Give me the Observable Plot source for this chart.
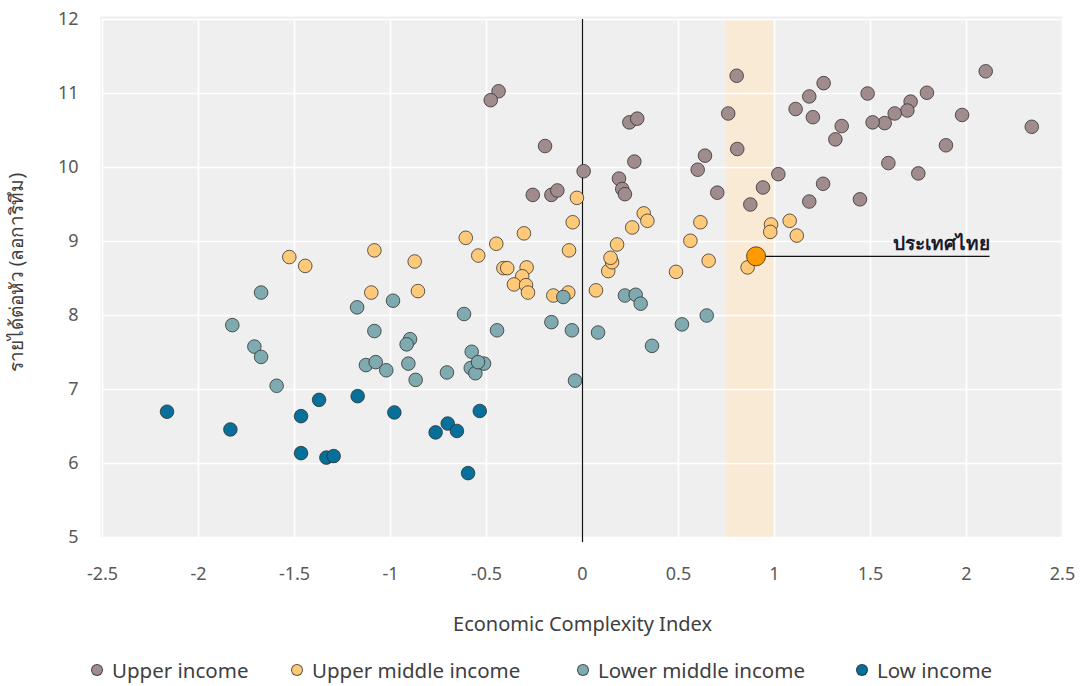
<!DOCTYPE html>
<html>
<head>
<meta charset="utf-8">
<script src="https://cdn.jsdelivr.net/npm/d3@7"></script>
<script src="https://cdn.jsdelivr.net/npm/@observablehq/plot@0.6"></script>
<style>
  body { margin: 0; background: #ffffff; font-family: "Noto Sans", "Open Sans", sans-serif; }
  #wrap { position: relative; width: 1080px; height: 686px; }
  #legend { position: absolute; left: 0; top: 652px; width: 1080px; height: 36px; }
  .li { position: absolute; top: 0; display: flex; align-items: center; font-size: 20.5px; color: #404040; height: 36px; }
  .sw { width: 12px; height: 12px; border-radius: 50%; border: 1px solid rgba(40,40,40,0.75); margin-right: 9px; box-sizing: border-box; }
</style>
</head>
<body>
<div id="wrap">
  <div id="chart"></div>
  <div id="legend"></div>
</div>
<script>
// ---- data ----
const groupNames = ["Upper income", "Upper middle income", "Lower middle income", "Low income"];
const groupColors = ["#a08c8c", "#ffc97a", "#7eaab0", "#07709a"];

const upperIncome = [
  [-0.437, 11.03], [-0.478, 10.91], [-0.195, 10.29], [0.006, 9.95], [-0.259, 9.63],
  [-0.162, 9.63], [-0.131, 9.69], [0.244, 10.61], [0.285, 10.66], [0.270, 10.08],
  [0.190, 9.85], [0.207, 9.71], [0.221, 9.64], [0.638, 10.16], [0.600, 9.97],
  [0.702, 9.66], [0.759, 10.73], [0.803, 11.24], [0.806, 10.25], [0.874, 9.50],
  [0.940, 9.73], [1.020, 9.91], [1.181, 9.54], [1.253, 9.78], [1.445, 9.57],
  [1.593, 10.06], [1.749, 9.92], [1.893, 10.30], [1.977, 10.71], [2.100, 11.30],
  [2.340, 10.55], [1.794, 11.01], [1.709, 10.89], [1.692, 10.77], [1.626, 10.73],
  [1.574, 10.60], [1.511, 10.61], [1.485, 11.00], [1.350, 10.56], [1.317, 10.38],
  [1.256, 11.14], [1.181, 10.96], [1.110, 10.79], [1.200, 10.68]
];
const upperMiddleIncome = [
  [-1.527, 8.79], [-1.444, 8.67], [-1.084, 8.88], [-0.874, 8.73], [-1.100, 8.31],
  [-0.857, 8.33], [-0.608, 9.05], [-0.449, 8.97], [-0.305, 9.11], [-0.543, 8.81],
  [-0.412, 8.64], [-0.392, 8.64], [-0.291, 8.65], [-0.314, 8.53], [-0.357, 8.42],
  [-0.294, 8.41], [-0.284, 8.31], [-0.152, 8.27], [-0.074, 8.31], [-0.029, 9.59],
  [-0.051, 9.26], [-0.070, 8.88], [0.070, 8.34], [0.134, 8.60], [0.154, 8.72],
  [0.146, 8.78], [0.180, 8.96], [0.259, 9.19], [0.319, 9.38], [0.338, 9.28],
  [0.487, 8.59], [0.562, 9.01], [0.614, 9.26], [0.657, 8.74], [0.860, 8.65],
  [0.982, 9.23], [0.978, 9.13], [1.079, 9.28], [1.116, 9.08]
];
const lowerMiddleIncome = [
  [-1.674, 8.31], [-1.824, 7.87], [-1.709, 7.58], [-1.674, 7.44], [-1.593, 7.05],
  [-1.174, 8.11], [-0.987, 8.20], [-1.084, 7.79], [-0.898, 7.68], [-0.916, 7.61],
  [-1.128, 7.33], [-1.077, 7.37], [-1.022, 7.26], [-0.907, 7.35], [-0.869, 7.13],
  [-0.617, 8.02], [-0.445, 7.80], [-0.577, 7.51], [-0.582, 7.29], [-0.558, 7.22],
  [-0.513, 7.35], [-0.544, 7.37], [-0.706, 7.23], [-0.162, 7.91], [-0.055, 7.80],
  [-0.100, 8.25], [-0.039, 7.12], [0.081, 7.77], [0.221, 8.27], [0.277, 8.28],
  [0.303, 8.16], [0.362, 7.59], [0.518, 7.88], [0.647, 8.00]
];
const lowIncome = [
  [-2.164, 6.70], [-1.834, 6.46], [-1.466, 6.64], [-1.372, 6.86], [-1.171, 6.91],
  [-0.980, 6.69], [-1.466, 6.14], [-1.334, 6.08], [-1.296, 6.10], [-0.535, 6.71],
  [-0.702, 6.54], [-0.765, 6.42], [-0.654, 6.44], [-0.596, 5.87]
];
const thailand = [[0.904, 8.80]];
const thailandLabel = "ประเทศไทย";
const labelEndX = 2.12;
const highlightBand = [[0.75, 1.0]];
const xTicks = [-2.5, -2, -1.5, -1, -0.5, 0, 0.5, 1, 1.5, 2, 2.5];
const yTicks = [5, 6, 7, 8, 9, 10, 11, 12];
const xLabel = "Economic Complexity Index";
const yLabel = "รายได้ต่อหัว (ลอการิทึม)";

// ---- chart ----
const groups = [upperIncome, upperMiddleIncome, lowerMiddleIncome, lowIncome];
const textFont = "'Noto Sans', 'Open Sans', sans-serif";

const dotMarks = groups.map((g, i) => Plot.dot(g, {
  x: d => d[0], y: d => d[1], r: 6.8, fill: groupColors[i],
  stroke: "#2a2a2a", strokeOpacity: 0.75, strokeWidth: 1
}));

const chart = Plot.plot({
  width: 1080, height: 648,
  marginLeft: 102, marginRight: 18, marginTop: 19, marginBottom: 111,
  style: { fontFamily: textFont, fontSize: "17px", color: "#595959", background: "#ffffff" },
  x: { domain: [-2.5, 2.5], ticks: xTicks },
  y: { domain: [5, 12], ticks: yTicks },
  marks: [
    Plot.frame({ fill: "#efefef", stroke: null, insetTop: -3, insetLeft: -2 }),
    Plot.rectX(highlightBand, { x1: d => d[0], x2: d => d[1], y1: 5, y2: 12, fill: "#f9ead6" }),
    Plot.gridX(xTicks, { stroke: "#ffffff", strokeOpacity: 1, strokeWidth: 1.6 }),
    Plot.gridY(yTicks, { stroke: "#ffffff", strokeOpacity: 1, strokeWidth: 1.6 }),
    Plot.ruleX([0], { stroke: "#111111", strokeWidth: 1.2, y1: 12, y2: 5, insetBottom: -5 }),
    Plot.axisX(xTicks, { tickSize: 0, tickPadding: 30, fontSize: 18, fill: "#595959", label: null,
      tickFormat: d => String(d) }),
    Plot.axisY(yTicks, { tickSize: 0, tickPadding: 24, fontSize: 18, fill: "#595959", label: null,
      tickFormat: d => String(d) }),
    Plot.text([xLabel], { frameAnchor: "bottom", dy: 87, text: d => d, fontSize: 20, fill: "#404040", lineAnchor: "middle", textAnchor: "middle" }),
    Plot.text([yLabel], { frameAnchor: "left", dx: -86, dy: -6, rotate: -90, text: d => d, fontSize: 19, fill: "#404040", lineAnchor: "middle", textAnchor: "middle" }),
    ...dotMarks,
    Plot.link(thailand, { x1: d => d[0], y1: d => d[1], x2: labelEndX, y2: d => d[1], stroke: "#111111", strokeWidth: 1.3 }),
    Plot.dot(thailand, { x: d => d[0], y: d => d[1], r: 9.5, fill: "#ff9a00", stroke: "#3a2a10", strokeOpacity: 0.8, strokeWidth: 1, ariaLabel: "thai-dot" }),
    Plot.text(thailand, { x: labelEndX, y: d => d[1], text: () => thailandLabel, textAnchor: "end", lineAnchor: "bottom", dy: -6, fontSize: 19, fontWeight: "bold", fill: "#1a1a2a" })
  ]
});

// drop shadow for highlighted point
const svg = d3.select(chart);
const defs = svg.insert("defs", ":first-child");
const f = defs.append("filter").attr("id", "shadow").attr("x", "-50%").attr("y", "-50%").attr("width", "200%").attr("height", "200%");
f.append("feDropShadow").attr("dx", 2).attr("dy", 3).attr("stdDeviation", 2.5).attr("flood-color", "#000").attr("flood-opacity", 0.35);
svg.selectAll("g[aria-label='thai-dot']").attr("filter", "url(#shadow)");

document.getElementById("chart").appendChild(chart);

// ---- legend ----
const legendLeft = [91, 291, 577, 856];
const legend = document.getElementById("legend");
groupNames.forEach((name, i) => {
  const item = document.createElement("div");
  item.className = "li";
  item.style.left = legendLeft[i] + "px";
  const sw = document.createElement("span");
  sw.className = "sw";
  sw.style.background = groupColors[i];
  item.appendChild(sw);
  const t = document.createElement("span");
  t.textContent = name;
  item.appendChild(t);
  legend.appendChild(item);
});
</script>
</body>
</html>
